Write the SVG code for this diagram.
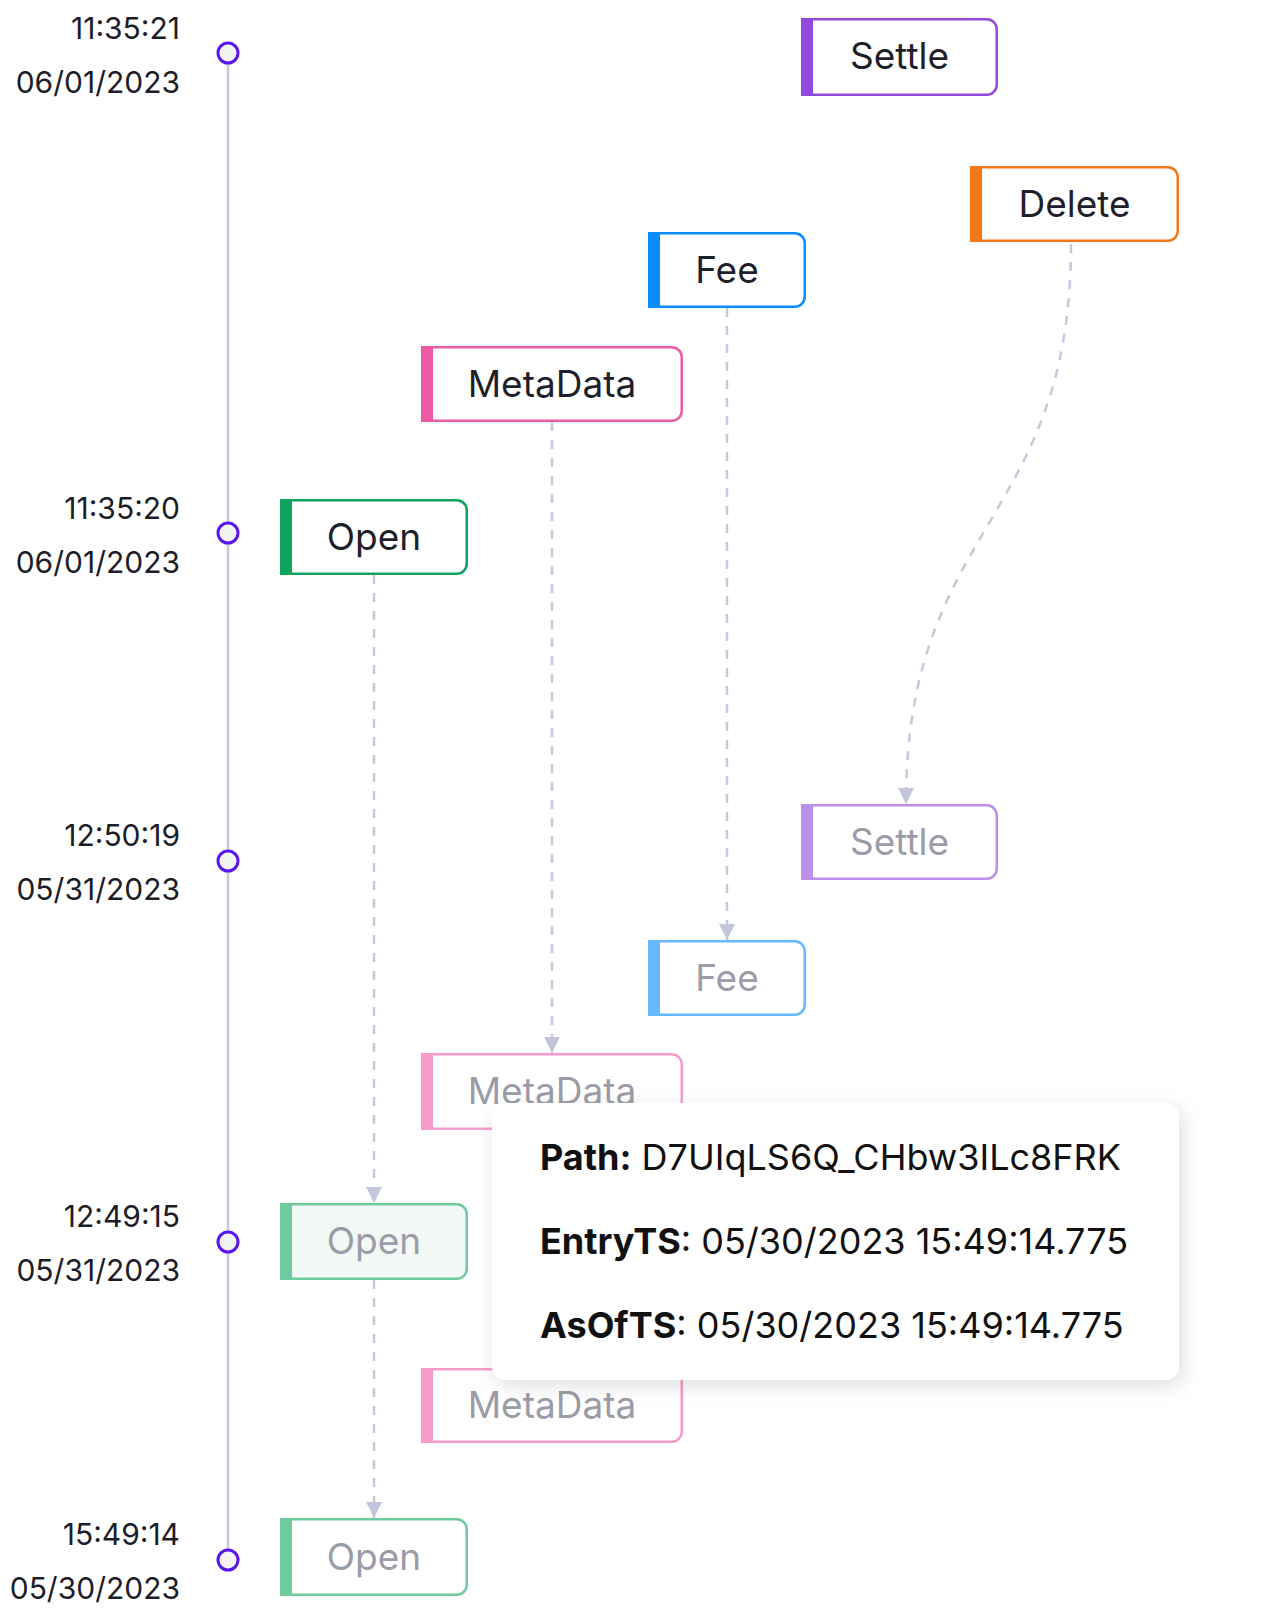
<svg xmlns="http://www.w3.org/2000/svg" width="1287" height="1614" viewBox="0 0 1287 1614">
<defs>
<marker id="arr" viewBox="0 0 16 16" refX="16" refY="8" markerWidth="16" markerHeight="16" markerUnits="userSpaceOnUse" orient="auto">
<path d="M0 0 L16 8 L0 16 Z" fill="#c3c5da"/>
</marker>
<filter id="shadow" x="-10%" y="-15%" width="125%" height="140%">
<feDropShadow dx="4" dy="6" stdDeviation="10" flood-color="#000" flood-opacity="0.13"/>
</filter>
</defs>
<style>
.ts{font-family:Inter,"Liberation Sans",sans-serif;font-size:30px;fill:#1d1d27;text-anchor:end}
.lbl{font-family:Inter,"Liberation Sans",sans-serif;font-size:37px;text-anchor:middle;fill:#1f1f2b}
.faded .lbl{fill:#9c9ba8}
.box{fill:#fff;stroke-width:2.5}
.dot{fill:#f4f4f6;stroke:#5b16ef;stroke-width:3}
.conn{fill:none;stroke:#c6c8dc;stroke-width:2.5;stroke-dasharray:9 9}
.tip{font-family:Inter,"Liberation Sans",sans-serif;font-size:36px;fill:#111}
.tip .b{font-weight:700}
</style>
<rect width="1287" height="1614" fill="#fff"/>
<g id="timeline">
<line x1="228" y1="53" x2="228" y2="1560" stroke="#c5c8dc" stroke-width="2.5"/>
<circle class="dot" cx="228" cy="53" r="10"/>
<circle class="dot" cx="228" cy="533" r="10"/>
<circle class="dot" cx="228" cy="861" r="10"/>
<circle class="dot" cx="228" cy="1242" r="10"/>
<circle class="dot" cx="228" cy="1560" r="10"/>
<text class="ts" x="180" y="39">11:35:21</text>
<text class="ts" x="180" y="93">06/01/2023</text>
<text class="ts" x="180" y="519">11:35:20</text>
<text class="ts" x="180" y="573">06/01/2023</text>
<text class="ts" x="180" y="846">12:50:19</text>
<text class="ts" x="180" y="900">05/31/2023</text>
<text class="ts" x="180" y="1227">12:49:15</text>
<text class="ts" x="180" y="1281">05/31/2023</text>
<text class="ts" x="180" y="1545">15:49:14</text>
<text class="ts" x="180" y="1599">05/30/2023</text>
</g>
<g id="connectors">
<path class="conn" d="M1071 244 C1071 524 906 524 906 804" marker-end="url(#arr)"/>
<path class="conn" d="M727 308 V940" marker-end="url(#arr)"/>
<path class="conn" d="M552 422 V1053" marker-end="url(#arr)"/>
<path class="conn" d="M374 575 V1203" marker-end="url(#arr)"/>
<path class="conn" d="M374 1280 V1518" marker-end="url(#arr)"/>
</g>
<g id="node-settle">
<path class="box" stroke="#9249dd" d="M802.25 19.25 H986.75 a10 10 0 0 1 10 10 V84.75 a10 10 0 0 1 -10 10 H802.25 Z"/>
<rect x="801" y="18" width="12" height="77" fill="#9249dd"/>
<text class="lbl" x="899.5" y="69">Settle</text>
</g>
<g id="node-delete">
<path class="box" stroke="#f37819" d="M971.25 167.25 H1167.75 a10 10 0 0 1 10 10 V230.75 a10 10 0 0 1 -10 10 H971.25 Z"/>
<rect x="970" y="166" width="12" height="76" fill="#f37819"/>
<text class="lbl" x="1074.5" y="217">Delete</text>
</g>
<g id="node-fee">
<path class="box" stroke="#0a8bff" d="M649.25 233.25 H794.75 a10 10 0 0 1 10 10 V296.75 a10 10 0 0 1 -10 10 H649.25 Z"/>
<rect x="648" y="232" width="12" height="76" fill="#0a8bff"/>
<text class="lbl" x="727" y="283">Fee</text>
</g>
<g id="node-metadata">
<path class="box" stroke="#ec5aa6" d="M422.25 347.25 H671.75 a10 10 0 0 1 10 10 V410.75 a10 10 0 0 1 -10 10 H422.25 Z"/>
<rect x="421" y="346" width="12" height="76" fill="#ec5aa6"/>
<text class="lbl" x="552" y="397">MetaData</text>
</g>
<g id="node-open">
<path class="box" stroke="#0ea35f" d="M281.25 500.25 H456.75 a10 10 0 0 1 10 10 V563.75 a10 10 0 0 1 -10 10 H281.25 Z"/>
<rect x="280" y="499" width="12" height="76" fill="#0ea35f"/>
<text class="lbl" x="374" y="550">Open</text>
</g>
<g id="node-settle-old" class="faded">
<path class="box" stroke="#bc8fea" d="M802.25 805.25 H986.75 a10 10 0 0 1 10 10 V868.75 a10 10 0 0 1 -10 10 H802.25 Z"/>
<rect x="801" y="804" width="12" height="76" fill="#bc8fea"/>
<text class="lbl" x="899.5" y="855">Settle</text>
</g>
<g id="node-fee-old" class="faded">
<path class="box" stroke="#66b8ff" d="M649.25 941.25 H794.75 a10 10 0 0 1 10 10 V1004.75 a10 10 0 0 1 -10 10 H649.25 Z"/>
<rect x="648" y="940" width="12" height="76" fill="#66b8ff"/>
<text class="lbl" x="727" y="991">Fee</text>
</g>
<g id="node-metadata-old1" class="faded">
<path class="box" stroke="#f49ccb" d="M422.25 1054.25 H671.75 a10 10 0 0 1 10 10 V1118.75 a10 10 0 0 1 -10 10 H422.25 Z"/>
<rect x="421" y="1053" width="12" height="77" fill="#f49ccb"/>
<text class="lbl" x="552" y="1104">MetaData</text>
</g>
<g id="node-open-old1" class="faded">
<path class="box" stroke="#6dcb9d" style="fill:#f2f8f4" d="M281.25 1204.25 H456.75 a10 10 0 0 1 10 10 V1268.75 a10 10 0 0 1 -10 10 H281.25 Z"/>
<rect x="280" y="1203" width="12" height="77" fill="#6dcb9d"/>
<text class="lbl" x="374" y="1254">Open</text>
</g>
<g id="node-metadata-old2" class="faded">
<path class="box" stroke="#f49ccb" d="M422.25 1369.25 H671.75 a10 10 0 0 1 10 10 V1431.75 a10 10 0 0 1 -10 10 H422.25 Z"/>
<rect x="421" y="1368" width="12" height="75" fill="#f49ccb"/>
<text class="lbl" x="552" y="1418">MetaData</text>
</g>
<g id="node-open-old2" class="faded">
<path class="box" stroke="#6dcb9d" d="M281.25 1519.25 H456.75 a10 10 0 0 1 10 10 V1584.75 a10 10 0 0 1 -10 10 H281.25 Z"/>
<rect x="280" y="1518" width="12" height="78" fill="#6dcb9d"/>
<text class="lbl" x="374" y="1570">Open</text>
</g>
<g id="tooltip">
<rect x="492" y="1103" width="687" height="277" rx="14" fill="#fff" filter="url(#shadow)"/>
<text class="tip" x="540" y="1170"><tspan class="b">Path:</tspan> D7UIqLS6Q_CHbw3ILc8FRK</text>
<text class="tip" x="540" y="1254"><tspan class="b">EntryTS</tspan>: 05/30/2023 15:49:14.775</text>
<text class="tip" x="540" y="1338"><tspan class="b">AsOfTS</tspan>: 05/30/2023 15:49:14.775</text>
</g>
</svg>
